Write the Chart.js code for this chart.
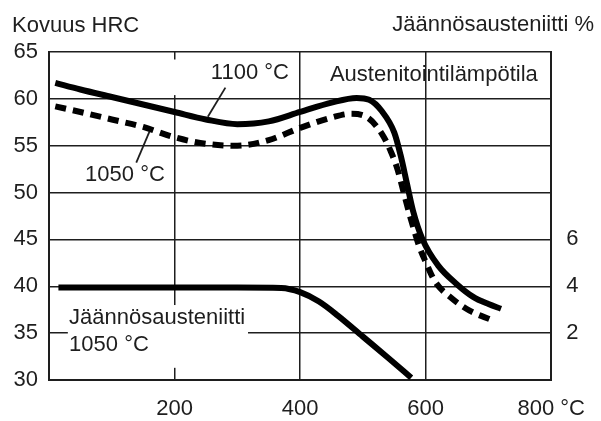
<!DOCTYPE html>
<html><head><meta charset="utf-8">
<script src="https://cdn.jsdelivr.net/npm/chart.js@4/dist/chart.umd.min.js"></script>
<style>html,body{margin:0;padding:0;background:#fff}</style>
</head><body>
<canvas id="c" width="601" height="421"></canvas>
<script>
// ---- data ----
const temps1100 = [10,50,100,150,200,250,300,350,400,450,490,510,530,550,560,570,580,595,620,650,675,700,720];
const hrc1100   = [61.7,61.0,60.2,59.4,58.6,57.8,57.3,57.6,58.6,59.6,60.1,59.9,58.7,56.4,54.0,51.0,48.0,45.0,42.2,40.2,38.9,38.1,37.6];
const temps1050 = [10,50,100,150,200,250,300,350,400,450,480,505,530,545,555,565,575,590,600,615,640,670,705];
const hrc1050   = [59.2,58.6,57.8,57.0,55.9,55.2,55.0,55.6,56.9,58.0,58.4,58.1,56.3,54.3,52.5,50.0,47.5,44.2,42.6,40.5,38.8,37.4,36.4];
const tempsRA   = [15,100,200,300,370,400,430,460,500,540,577];
const ra1050    = [3.95,3.95,3.95,3.95,3.93,3.75,3.35,2.75,1.85,0.95,0.1];
const xTicks    = [200,400,600,800];
const xTickLabels = ['200','400','600','800 °C'];
const yTicks    = [30,35,40,45,50,55,60,65];
const rightTicks = [2,4,6];

const FONT = "'Liberation Sans', Arial, Helvetica, sans-serif";
const INK = '#1e1e1e';
const pts = (xs, ys) => xs.map((x, i) => ({x, y: ys[i]}));

const notes = {
  texts: [
    {t: '1100 °C', x: 320, y: 62.8, align: 'center'},
    {t: '1050 °C', x: 121, y: 51.9, align: 'center'},
    {t: 'Austenitointilämpötila', x: 613, y: 62.6, align: 'center'},
    {t: 'Jäännösausteniitti', x: 32, y: 36.6, align: 'left'},
    {t: '1050 °C', x: 32, y: 33.7, align: 'left'}
  ],
  leaders: [
    [281, 61.2, 253, 58.1],
    [160, 56.5, 139, 53.2]
  ],
  masks: [
    [190, 64.2, 210, 60.4],
    [30, 38.0, 317, 31.3]
  ]
};

const deco = {
  id: 'deco',
  beforeDatasetsDraw(chart) {
    const {ctx, scales: {x, y}} = chart;
    ctx.save();
    ctx.fillStyle = '#fff';
    notes.masks.forEach(([x1, y1, x2, y2]) => {
      const px1 = x.getPixelForValue(x1), px2 = x.getPixelForValue(x2);
      const py1 = y.getPixelForValue(y1), py2 = y.getPixelForValue(y2);
      ctx.fillRect(px1, py1, px2 - px1, py2 - py1);
    });
    ctx.restore();
  },
  afterDatasetsDraw(chart) {
    const {ctx, scales: {x, y}} = chart;
    ctx.save();
    ctx.strokeStyle = INK; ctx.lineWidth = 1.8;
    notes.leaders.forEach(([a, b, c, d]) => {
      ctx.beginPath();
      ctx.moveTo(x.getPixelForValue(a), y.getPixelForValue(b));
      ctx.lineTo(x.getPixelForValue(c), y.getPixelForValue(d));
      ctx.stroke();
    });
    ctx.fillStyle = INK; ctx.font = '22px ' + FONT; ctx.textBaseline = 'middle';
    notes.texts.forEach(n => {
      ctx.textAlign = n.align;
      ctx.fillText(n.t, x.getPixelForValue(n.x), y.getPixelForValue(n.y));
    });
    ctx.restore();
  },
  afterDraw(chart) {
    const {ctx} = chart;
    ctx.save();
    ctx.fillStyle = INK; ctx.font = '22px ' + FONT; ctx.textBaseline = 'middle';
    ctx.textAlign = 'left'; ctx.fillText('Kovuus HRC', 12, 26);
    ctx.textAlign = 'right'; ctx.fillText('Jäännösausteniitti %', 594, 25);
    ctx.restore();
  }
};

new Chart(document.getElementById('c'), {
  type: 'line',
  data: {
    datasets: [
      {data: pts(temps1100, hrc1100), borderColor: '#000', borderWidth: 6, pointRadius: 0, cubicInterpolationMode: 'monotone', yAxisID: 'y'},
      {data: pts(temps1050, hrc1050), borderColor: '#000', borderWidth: 6, borderDash: [11, 7], pointRadius: 0, cubicInterpolationMode: 'monotone', yAxisID: 'y'},
      {data: pts(tempsRA, ra1050), borderColor: '#000', borderWidth: 6, pointRadius: 0, cubicInterpolationMode: 'monotone', yAxisID: 'y2'}
    ]
  },
  options: {
    responsive: false, animation: false, devicePixelRatio: 1,
    layout: {padding: {top: 52, left: 0, right: 0, bottom: 0}},
    plugins: {legend: {display: false}, tooltip: {enabled: false}},
    scales: {
      x: {
        type: 'linear', min: 0, max: 800,
        afterBuildTicks(s) { s.ticks = [0, ...xTicks].map(v => ({value: v})); },
        ticks: {
          callback(v) { const i = xTicks.indexOf(v); return i < 0 ? '' : xTickLabels[i]; },
          font: {family: FONT, size: 22}, color: INK, padding: 16, maxRotation: 0, autoSkip: false
        },
        grid: {color: INK, lineWidth: 1.5, drawTicks: false},
        border: {color: INK, width: 2},
        afterFit(s) { s.height = 41; }
      },
      y: {
        min: 30, max: 65,
        afterBuildTicks(s) { s.ticks = yTicks.map(v => ({value: v})); },
        ticks: {font: {family: FONT, size: 22}, color: INK, padding: 11},
        grid: {color: INK, lineWidth: 1.5, drawTicks: false},
        border: {color: INK, width: 2},
        afterFit(s) { s.width = 49; }
      },
      y2: {
        position: 'right', min: 0, max: 14,
        afterBuildTicks(s) { s.ticks = rightTicks.map(v => ({value: v})); },
        ticks: {font: {family: FONT, size: 22}, color: INK, padding: 15},
        grid: {display: false, drawTicks: false},
        border: {color: INK, width: 2},
        afterFit(s) { s.width = 38; }
      }
    }
  },
  plugins: [deco]
});
</script>
</body></html>
